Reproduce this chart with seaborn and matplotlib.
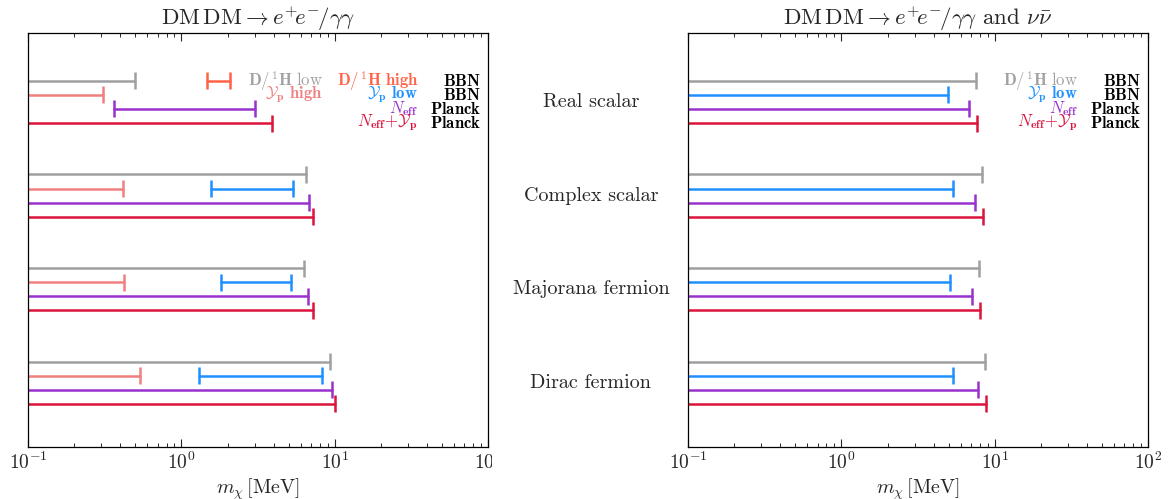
import numpy as np
import pandas as pd
import seaborn as sns
import matplotlib.pyplot as plt
from matplotlib.ticker import LogLocator, NullFormatter
from matplotlib.transforms import Bbox, TransformedBbox

# Dark matter models (top to bottom)
models = ['Real scalar', 'Complex scalar', 'Majorana fermion', 'Dirac fermion']

# Left panel: DM DM -> e+e- / gamma gamma  (lower bounds on m_chi in MeV, NaN = open)
ee_dh_low_hi = [0.50, 6.45, 6.29, 9.24]
ee_dh_high_lo = [1.47, np.nan, np.nan, np.nan]
ee_dh_high_hi = [2.07, np.nan, np.nan, np.nan]
ee_yp_high_hi = [0.31, 0.414, 0.42, 0.54]
ee_yp_low_lo = [np.nan, 1.57, 1.80, 1.31]
ee_yp_low_hi = [np.nan, 5.36, 5.20, 8.24]
ee_neff_lo = [0.363, np.nan, np.nan, np.nan]
ee_neff_hi = [3.02, 6.78, 6.71, 9.55]
ee_neffyp_hi = [3.90, 7.23, 7.17, 10.0]

# Right panel: DM DM -> e+e- / gamma gamma and nu nubar
nu_dh_low_hi = [7.60, 8.31, 7.95, 8.61]
nu_yp_low_hi = [4.99, 5.38, 5.14, 5.38]
nu_neff_hi = [6.84, 7.45, 7.16, 7.79]
nu_neffyp_hi = [7.68, 8.40, 8.00, 8.72]

colors = {
    'dh_low': '#a0a0a0',
    'dh_high': 'tomato',
    'yp_high': 'lightcoral',
    'yp_low': 'dodgerblue',
    'neff': 'darkorchid',
    'neffyp': 'crimson',
}

XMIN, XMAX = 0.1, 100
ROW_STEP = 0.15


def make_rows(series, row, lo, hi):
    out = []
    for g, (a, b) in enumerate(zip(lo, hi)):
        if np.isnan(b):
            continue
        out.append(dict(series=series, group=g, row=row, lo=a, hi=b))
    return out


nan4 = [np.nan] * 4
left = pd.DataFrame(
    make_rows('dh_low', 0, nan4, ee_dh_low_hi)
    + make_rows('dh_high', 0, ee_dh_high_lo, ee_dh_high_hi)
    + make_rows('yp_high', 1, nan4, ee_yp_high_hi)
    + make_rows('yp_low', 1, ee_yp_low_lo, ee_yp_low_hi)
    + make_rows('neff', 2, ee_neff_lo, ee_neff_hi)
    + make_rows('neffyp', 3, nan4, ee_neffyp_hi)
)
right = pd.DataFrame(
    make_rows('dh_low', 0, nan4, nu_dh_low_hi)
    + make_rows('yp_low', 1, nan4, nu_yp_low_hi)
    + make_rows('neff', 2, nan4, nu_neff_hi)
    + make_rows('neffyp', 3, nan4, nu_neffyp_hi)
)

sns.set_theme(style='ticks')
plt.rcParams.update({
    'font.family': 'serif',
    'font.serif': ['cmr10'],
    'mathtext.fontset': 'cm',
    'axes.formatter.use_mathtext': True,
    'axes.unicode_minus': False,
    'axes.edgecolor': 'black',
    'axes.linewidth': 0.9,
    'xtick.direction': 'in',
    'xtick.top': True,
    'xtick.major.size': 6,
    'xtick.minor.size': 3,
    'xtick.major.width': 0.8,
    'xtick.minor.width': 0.7,
    'xtick.labelsize': 14,
})

fig = plt.figure(figsize=(11.68, 4.99), dpi=100)
ax1 = fig.add_axes([0.024, 0.104, 0.394, 0.830])
ax2 = fig.add_axes([0.589, 0.104, 0.394, 0.830])


def draw_panel(ax, df):
    df = df.copy()
    df['y'] = df['group'] + df['row'] * ROW_STEP
    segs = []
    caps = []
    for i, r in df.iterrows():
        start = XMIN if np.isnan(r['lo']) else r['lo']
        segs.append(dict(seg=i, series=r['series'], x=start, y=r['y']))
        segs.append(dict(seg=i, series=r['series'], x=r['hi'], y=r['y']))
        caps.append(dict(series=r['series'], x=r['hi'], y=r['y']))
        if not np.isnan(r['lo']):
            caps.append(dict(series=r['series'], x=r['lo'], y=r['y']))
    segs = pd.DataFrame(segs)
    caps = pd.DataFrame(caps)
    sns.lineplot(data=segs, x='x', y='y', hue='series', units='seg',
                 estimator=None, sort=False, palette=colors, lw=1.8,
                 legend=False, ax=ax)
    sns.scatterplot(data=caps, x='x', y='y', hue='series', palette=colors,
                    marker='|', s=150, linewidth=1.8, legend=False, ax=ax)
    ax.set_xscale('log')
    ax.set_xlim(XMIN, XMAX)
    ax.set_ylim(3.914, -0.513)
    ax.set_yticks([])
    ax.set_ylabel('')
    ax.set_xlabel(r'$m_\chi\,[\mathrm{MeV}]$', fontsize=14.5, labelpad=2)
    ax.xaxis.set_minor_locator(LogLocator(base=10, subs=np.arange(2, 10)))
    ax.xaxis.set_minor_formatter(NullFormatter())
    for s in ax.spines.values():
        s.set_visible(True)


draw_panel(ax1, left)
draw_panel(ax2, right)

ax1.set_title(r'$\mathrm{DM\,DM} \rightarrow e^{+}\!e^{-}\!/\gamma\gamma$', fontsize=16.5, pad=5)
ax2.set_title(r'$\mathrm{DM\,DM} \rightarrow e^{+}\!e^{-}\!/\gamma\gamma$ and $\nu\bar{\nu}$',
              fontsize=16.5, pad=5)

fs = 12
dh_low = r'$\mathbf{D/^1H}\ \mathrm{low}$'
dh_high = r'$\mathbf{D/^1H\ high}$'
yp_high = r'$\mathcal{Y}_\mathbf{p}\ \mathbf{high}$'
yp_low = r'$\mathcal{Y}_\mathbf{p}\ \mathbf{low}$'
neff = r'$N_\mathbf{eff}$'
neffyp = r'$N_\mathbf{eff}\!+\!\mathcal{Y}_\mathbf{p}$'

tr1 = ax1.get_yaxis_transform()
ax1.text(0.641, 0, dh_low, color=colors['dh_low'], ha='right', va='center', fontsize=fs, transform=tr1)
ax1.text(0.848, 0, dh_high, color=colors['dh_high'], ha='right', va='center', fontsize=fs, transform=tr1)
ax1.text(0.641, ROW_STEP, yp_high, color=colors['yp_high'], ha='right', va='center', fontsize=fs, transform=tr1)
ax1.text(0.848, ROW_STEP, yp_low, color=colors['yp_low'], ha='right', va='center', fontsize=fs, transform=tr1)
ax1.text(0.848, 2 * ROW_STEP, neff, color=colors['neff'], ha='right', va='center', fontsize=fs, transform=tr1)
ax1.text(0.848, 3 * ROW_STEP, neffyp, color=colors['neffyp'], ha='right', va='center', fontsize=fs, transform=tr1)

tr2 = ax2.get_yaxis_transform()
ax2.text(0.848, 0, dh_low, color=colors['dh_low'], ha='right', va='center', fontsize=fs, transform=tr2)
ax2.text(0.848, ROW_STEP, yp_low, color=colors['yp_low'], ha='right', va='center', fontsize=fs, transform=tr2)
ax2.text(0.848, 2 * ROW_STEP, neff, color=colors['neff'], ha='right', va='center', fontsize=fs, transform=tr2)
ax2.text(0.848, 3 * ROW_STEP, neffyp, color=colors['neffyp'], ha='right', va='center', fontsize=fs, transform=tr2)

sources = [r'$\mathbf{BBN}$', r'$\mathbf{BBN}$', r'$\mathbf{Planck}$', r'$\mathbf{Planck}$']
for ax, tr in [(ax1, tr1), (ax2, tr2)]:
    for k, src in enumerate(sources):
        ax.text(0.985, k * ROW_STEP, src, color='black', ha='right', va='center',
                fontsize=fs, transform=tr)

for g, name in enumerate(models):
    ax2.text(-0.211, g + 1.5 * ROW_STEP, name, ha='center', va='center',
             fontsize=14.5, transform=ax2.get_yaxis_transform())

# the left panel's last tick label is cut at the panel edge in the original
fig.canvas.draw()
clip = TransformedBbox(Bbox([[0, 0], [492 / 1168, 1]]), fig.transFigure)
for lbl in ax1.get_xticklabels():
    lbl.set_clip_box(clip)
    lbl.set_clip_on(True)

fig.savefig('out.png', dpi=100)
